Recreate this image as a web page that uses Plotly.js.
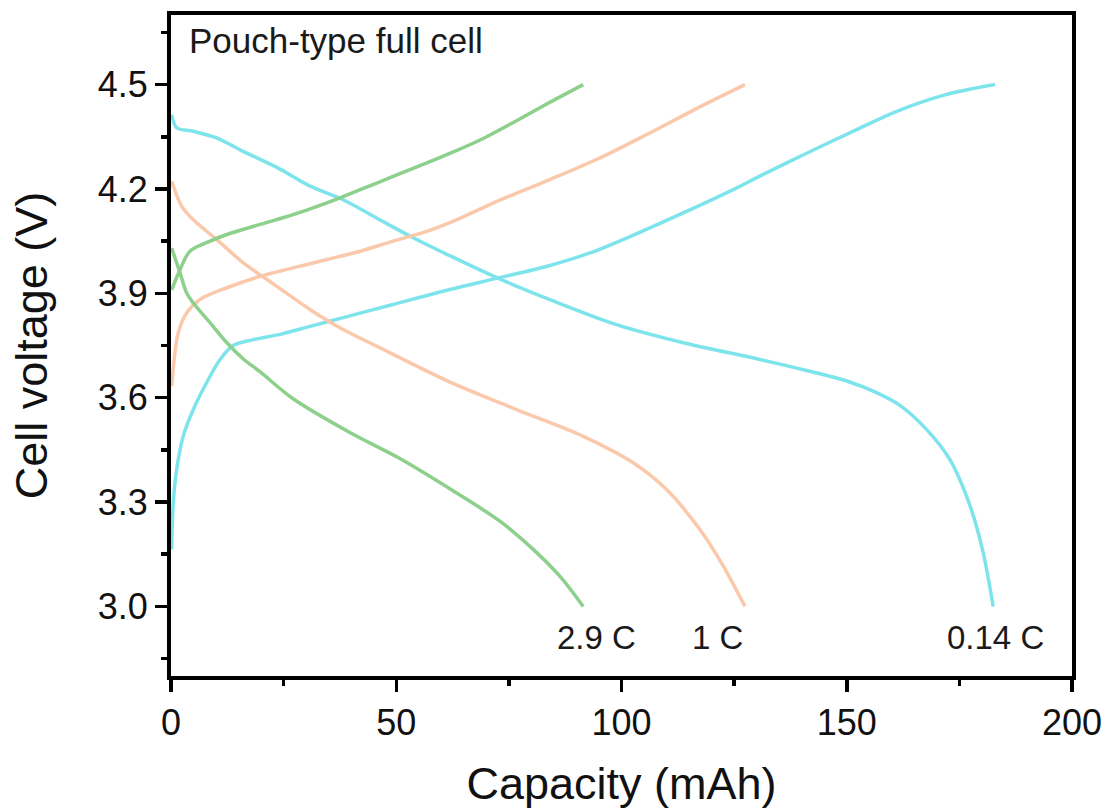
<!DOCTYPE html>
<html>
<head>
<meta charset="utf-8">
<script src="https://cdn.plot.ly/plotly-3.0.1.min.js"></script>
<style>html,body{margin:0;padding:0;background:#fff;}#chart{width:1110px;height:810px;}</style>
</head>
<body>
<div id="chart"></div>
<script>
// 2.9 C
const green_dis_x = [0.15, 2, 3.5, 4.9, 8.7, 12.4, 16, 19.8, 27.1, 39.7, 50.8, 61.9, 73, 80.4, 86.3, 91.5];
const green_dis_y = [4.03, 3.959, 3.90, 3.873, 3.815, 3.758, 3.712, 3.674, 3.597, 3.50, 3.425, 3.338, 3.245, 3.164, 3.087, 3.0];
const green_chg_x = [0.15, 2, 4.2, 8.7, 12.4, 19.8, 27.1, 34.6, 42, 49.3, 56.8, 61.9, 69.3, 76.7, 84.1, 91.5];
const green_chg_y = [3.91, 3.968, 4.021, 4.05, 4.069, 4.098, 4.126, 4.16, 4.198, 4.236, 4.275, 4.302, 4.345, 4.396, 4.449, 4.5];
// 1 C
const peach_dis_x = [0.15, 2.4, 4.9, 10.1, 16, 23.5, 30.9, 38.2, 45.7, 53.1, 61.9, 76.7, 91.5, 102.6, 110, 117.4, 122.6, 127.4];
const peach_dis_y = [4.222, 4.15, 4.112, 4.055, 3.988, 3.92, 3.853, 3.796, 3.748, 3.70, 3.645, 3.566, 3.489, 3.413, 3.336, 3.221, 3.116, 3.0];
const peach_chg_x = [0.15, 1.6, 3.5, 6.4, 12.4, 19.8, 27.1, 34.6, 42, 49.3, 56.8, 61.9, 73, 84.1, 95.2, 106.3, 117.4, 127.4];
const peach_chg_y = [3.633, 3.786, 3.844, 3.882, 3.916, 3.949, 3.973, 3.997, 4.021, 4.05, 4.078, 4.103, 4.168, 4.227, 4.289, 4.361, 4.436, 4.5];
// 0.14 C
const cyan_dis_x = [0.15, 1.27, 4.88, 10.1, 16, 23.5, 30.9, 38.2, 45.7, 53.1, 61.9, 72.3, 84.1, 98.9, 113.7, 130.7, 141.8, 150, 156, 161.8, 167.7, 172.9, 177.4, 180.3, 182.5];
const cyan_dis_y = [4.414, 4.376, 4.366, 4.347, 4.308, 4.262, 4.208, 4.169, 4.116, 4.064, 4.008, 3.945, 3.882, 3.81, 3.758, 3.71, 3.676, 3.648, 3.618, 3.578, 3.509, 3.422, 3.288, 3.154, 3.0];
const cyan_chg_x = [0.15, 0.5, 1.27, 2.7, 4.95, 7.9, 10.9, 13.8, 18.3, 24.2, 30.9, 38.2, 49.3, 61.9, 73, 84.1, 93, 102.6, 113.7, 124.8, 130.7, 141.8, 151.5, 160.3, 171.4, 182.9];
const cyan_chg_y = [3.164, 3.298, 3.394, 3.489, 3.566, 3.643, 3.71, 3.75, 3.767, 3.782, 3.805, 3.83, 3.868, 3.911, 3.945, 3.98, 4.016, 4.067, 4.131, 4.198, 4.237, 4.307, 4.366, 4.419, 4.469, 4.5];

const rate_labels = ["2.9 C", "1 C", "0.14 C"];
const rate_label_x = [94.4, 121.3, 183.1];
const rate_label_y = [2.91, 2.91, 2.91];

const xticks = [0, 50, 100, 150, 200];
const yticks = [3.0, 3.3, 3.6, 3.9, 4.2, 4.5];
const yticktext = ["3.0", "3.3", "3.6", "3.9", "4.2", "4.5"];

const cGreen = "rgb(140,208,140)";
const cPeach = "rgb(250,200,170)";
const cCyan = "rgb(125,228,236)";
const lw = 3.5;

const traces = [
  {x: cyan_chg_x, y: cyan_chg_y, color: cCyan},
  {x: cyan_dis_x, y: cyan_dis_y, color: cCyan},
  {x: peach_chg_x, y: peach_chg_y, color: cPeach},
  {x: peach_dis_x, y: peach_dis_y, color: cPeach},
  {x: green_chg_x, y: green_chg_y, color: cGreen},
  {x: green_dis_x, y: green_dis_y, color: cGreen}
].map(t => ({x: t.x, y: t.y, type: "scatter", mode: "lines", line: {color: t.color, width: lw, shape: "spline", smoothing: 0.9}, hoverinfo: "skip", showlegend: false}));

const font = "Liberation Sans, Arial, sans-serif";
const annotations = rate_labels.map((t, i) => ({
  x: rate_label_x[i], y: rate_label_y[i], xref: "x", yref: "y", text: t, showarrow: false,
  xanchor: "center", yanchor: "middle", font: {family: font, size: 33, color: "#1a1a1a"}
}));
annotations.push({
  x: 0.018, y: 0.962, xref: "paper", yref: "paper", text: "Pouch-type full cell", showarrow: false,
  xanchor: "left", yanchor: "middle", font: {family: font, size: 35, color: "#1a1a1a"}
});

const layout = {
  width: 1110, height: 810,
  margin: {l: 171, r: 38, t: 15, b: 134},
  paper_bgcolor: "#fff", plot_bgcolor: "#fff",
  font: {family: font, color: "#111"},
  showlegend: false,
  xaxis: {
    range: [0, 200], tickvals: xticks, ticks: "outside", ticklen: 12, tickwidth: 3.5, tickcolor: "#000",
    showline: true, linewidth: 4, linecolor: "#000", mirror: true, showgrid: false, zeroline: false,
    tickfont: {family: font, size: 36, color: "#111"},
    minor: {tick0: 0, dtick: 25, ticks: "outside", ticklen: 6, tickwidth: 3.5, tickcolor: "#000", showgrid: false},
    title: {text: "Capacity (mAh)", font: {family: font, size: 45, color: "#111"}, standoff: 26}
  },
  yaxis: {
    range: [2.8, 4.7], tickvals: yticks, ticktext: yticktext, ticks: "outside", ticklen: 12, tickwidth: 3.5, tickcolor: "#000",
    showline: true, linewidth: 4, linecolor: "#000", mirror: true, showgrid: false, zeroline: false,
    tickfont: {family: font, size: 36, color: "#111"},
    minor: {tick0: 2.85, dtick: 0.3, ticks: "outside", ticklen: 6, tickwidth: 3.5, tickcolor: "#000", showgrid: false},
    title: {text: "Cell voltage (V)", font: {family: font, size: 45, color: "#111"}, standoff: 37}
  },
  annotations: annotations
};

Plotly.newPlot("chart", traces, layout, {staticPlot: true, displayModeBar: false});
</script>
</body>
</html>
